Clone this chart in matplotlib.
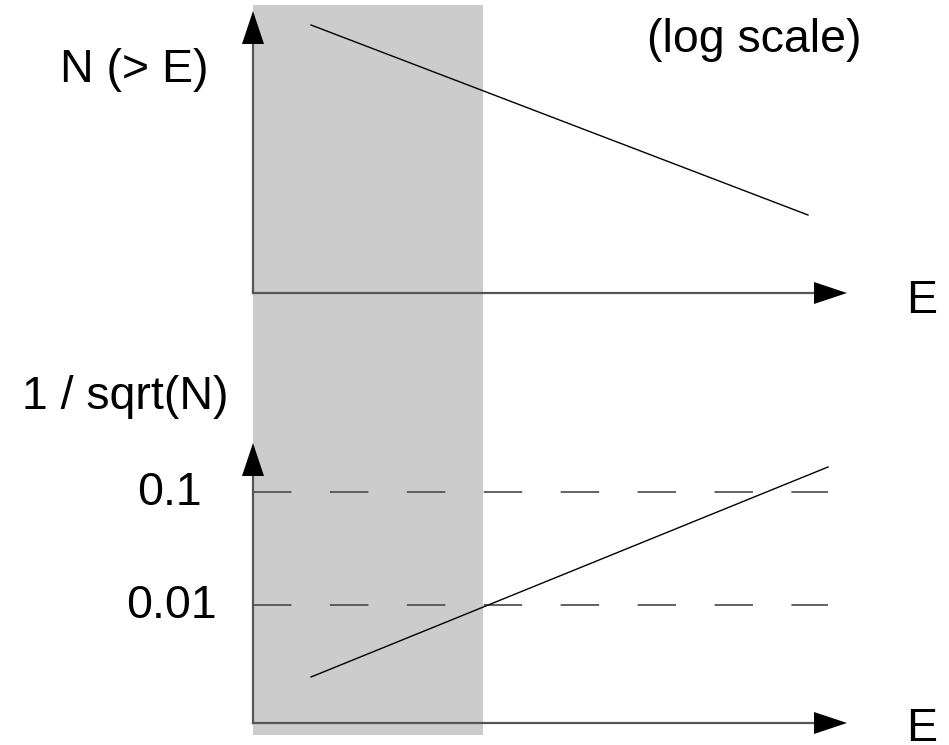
import matplotlib.pyplot as plt

plt.rcParams['font.family'] = ['Liberation Sans', 'DejaVu Sans']

# diagram coordinates (pixels, y downwards)
band_x = [253, 483]
band_y = [5, 735]

top_origin = (253, 293)
bottom_origin = (253, 723)
axis_end_x = 847
top_axis_tip_y = 11
bottom_axis_tip_y = 443

# N(>E) falling, 1/sqrt(N) rising (both on log scale)
n_line_x = [311, 808]
n_line_y = [25, 215]
err_line_x = [311, 828]
err_line_y = [677, 467]

ref_levels = ['0.1', '0.01']
ref_y = [492, 605]
ref_label_x = [137, 126]
ref_x_end = 828

fig = plt.figure(figsize=(9.49, 7.45), dpi=100)
ax = fig.add_axes([0, 0, 1, 1])
ax.set_xlim(0, 949)
ax.set_ylim(745, 0)
ax.axis('off')

ax.fill_between(band_x, band_y[0], band_y[1], color='#cccccc', lw=0, zorder=0)

axis_color = '#555555'


def up_arrow(x, y_from, y_tip):
    ax.plot([x, x], [y_from, y_tip + 30], color=axis_color, lw=1.6, zorder=2)
    ax.fill([x - 11, x + 11, x], [y_tip + 33, y_tip + 33, y_tip], color='black', lw=0, zorder=3)


def right_arrow(y, x_from, x_tip):
    ax.plot([x_from, x_tip - 30], [y, y], color=axis_color, lw=1.6, zorder=2)
    ax.fill([x_tip - 33, x_tip - 33, x_tip], [y - 11, y + 11, y], color='black', lw=0, zorder=3)


fs = 33.5

# upper panel
up_arrow(top_origin[0], top_origin[1], top_axis_tip_y)
right_arrow(top_origin[1], top_origin[0], axis_end_x)
ax.plot(n_line_x, n_line_y, color='black', lw=1.0, zorder=2)

# lower panel
up_arrow(bottom_origin[0], bottom_origin[1], bottom_axis_tip_y)
right_arrow(bottom_origin[1], bottom_origin[0], axis_end_x)
for lab, y, lx in zip(ref_levels, ref_y, ref_label_x):
    ax.plot([bottom_origin[0], ref_x_end], [y, y], color=axis_color, lw=1.3,
            dashes=(21.3, 21.3), zorder=1)
    ax.text(lx, y + 13, lab, fontsize=fs, ha='left', va='baseline')
ax.plot(err_line_x, err_line_y, color='black', lw=1.0, zorder=2)

ax.text(60, 82, 'N (> E)', fontsize=fs, ha='left', va='baseline')
ax.text(862, 52, '(log scale)', fontsize=fs, ha='right', va='baseline')
ax.text(906, 313, 'E', fontsize=fs, ha='left', va='baseline')
ax.text(22, 409, '1 / sqrt(N)', fontsize=fs, ha='left', va='baseline')
ax.text(906, 741, 'E', fontsize=fs, ha='left', va='baseline')

fig.savefig('out.png', dpi=100)
